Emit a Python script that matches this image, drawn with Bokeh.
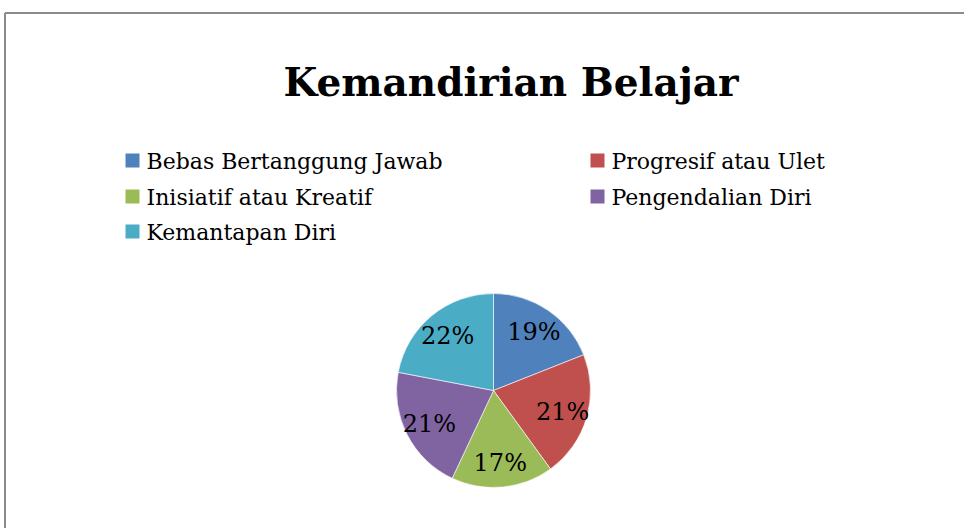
import numpy as np
from bokeh.plotting import figure
from bokeh.models import Range1d, ColumnDataSource
from bokeh.core.properties import value
from bokeh.embed import file_html
from bokeh.resources import INLINE

# ---- data ----
categories = ["Bebas Bertanggung Jawab", "Progresif atau Ulet", "Inisiatif atau Kreatif",
              "Pengendalian Diri", "Kemantapan Diri"]
percent = [19, 21, 17, 21, 22]
colors = ["#4F81BD", "#C0504D", "#9BBB59", "#8064A2", "#4BACC6"]
title_text = "Kemandirian Belajar"

W, H = 964, 528
FONT = "DejaVu Serif"

p = figure(width=W, height=H, output_backend="svg", toolbar_location=None,
           x_range=Range1d(0, W), y_range=Range1d(0, H), min_border=0)
p.axis.visible = False
p.grid.visible = False
p.outline_line_color = None
p.background_fill_color = "white"
p.border_fill_color = "white"

# chart frame (top and left edges visible)
top_y = H - 12.5
left_x = 4.5
p.line(x=[left_x, W], y=[top_y, top_y], line_color="#8a8a8a", line_width=2)
p.line(x=[left_x, left_x], y=[0, top_y], line_color="#8a8a8a", line_width=2)

# title
p.text(x=[510.5], y=[H - 81], text=[title_text], text_font=value(FONT),
       text_font_style="bold", text_font_size="39px", text_align="center",
       text_baseline="alphabetic", text_color="black")

# pie
cx, cy, R = 493, H - 390, 97
vals = np.array(percent, dtype=float)
frac = vals / vals.sum()
cum = np.concatenate([[0], np.cumsum(frac)])
# clockwise from 12 o'clock
start = np.pi / 2 - cum[:-1] * 2 * np.pi
end = np.pi / 2 - cum[1:] * 2 * np.pi
src = ColumnDataSource(dict(start=start, end=end, color=colors))
p.wedge(x=cx, y=cy, radius=R, start_angle="start", end_angle="end", direction="clock",
        fill_color="color", line_color="white", line_width=0.6, source=src)

mid = np.pi / 2 - (cum[:-1] + frac / 2) * 2 * np.pi
lr = 72
lx = cx + lr * np.cos(mid)
ly = cy + lr * np.sin(mid) - 1
labels = [f"{v:.0f}%" for v in percent]
p.text(x=lx, y=ly, text=labels, text_font=value(FONT), text_font_size="24px",
       text_align="center", text_baseline="middle", text_color="black")

# legend (two columns, row-major)
col_x = [132, 597]
row_y = [H - 160, H - 196, H - 231]
lgx, lgy, tx = [], [], []
for i in range(len(categories)):
    c, r = i % 2, i // 2
    lgx.append(col_x[c])
    lgy.append(row_y[r])
    tx.append(col_x[c] + 14)
p.rect(x=lgx, y=lgy, width=14, height=14, fill_color=colors, line_color=None)
p.text(x=tx, y=[y - 1 for y in lgy], text=categories, text_font=value(FONT),
       text_font_size="22px", text_align="left", text_baseline="alphabetic",
       text_color="black")

open("out.html", "w").write(file_html(p, INLINE))
